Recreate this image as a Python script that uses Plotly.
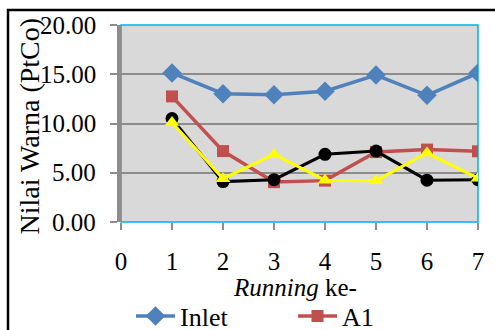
import plotly.graph_objects as go

runs = [1, 2, 3, 4, 5, 6, 7]
inlet = [15.13, 13.03, 12.93, 13.27, 14.92, 12.86, 15.13]
a1 = [12.75, 7.2, 4.05, 4.2, 7.1, 7.35, 7.18]
a2 = [10.5, 4.1, 4.3, 6.87, 7.2, 4.25, 4.3]
a3 = [10.1, 4.4, 6.85, 4.25, 4.2, 7.0, 4.45]

x_ticks = [0, 1, 2, 3, 4, 5, 6, 7]
y_ticks = [0, 5, 10, 15, 20]
y_labels = ["0.00", "5.00", "10.00", "15.00", "20.00"]
x_title = "<i>Running</i> ke-"
y_title = "Nilai Warna (PtCo)"

FONT = "Liberation Serif, Times New Roman, serif"
fig = go.Figure()
fig.add_trace(go.Scatter(x=runs, y=inlet, name="Inlet", mode="lines+markers",
                         line=dict(color="#4F81BD", width=3.5),
                         marker=dict(symbol="diamond", size=15, color="#4F81BD")))
fig.add_trace(go.Scatter(x=runs, y=a1, name="A1", mode="lines+markers",
                         line=dict(color="#C0504D", width=3.5),
                         marker=dict(symbol="square", size=12, color="#C0504D")))
fig.add_trace(go.Scatter(x=runs, y=a2, name="A2", mode="lines+markers", showlegend=False,
                         line=dict(color="#000000", width=3),
                         marker=dict(symbol="circle", size=13, color="#000000")))
fig.add_trace(go.Scatter(x=runs, y=a3, name="A3", mode="lines+markers", showlegend=False,
                         line=dict(color="#FFFF00", width=3),
                         marker=dict(symbol="triangle-up", size=13, color="#FFFF00")))

annotations = [
    dict(text=x_title, xref="paper", yref="paper", x=0.487, y=-0.33,
         xanchor="center", yanchor="middle", showarrow=False,
         font=dict(size=25, family=FONT)),
    dict(text=y_title, xref="paper", yref="paper", x=-0.255, y=0.49,
         xanchor="center", yanchor="middle", showarrow=False, textangle=-90,
         font=dict(size=28, family=FONT)),
]
for v, lab in zip(y_ticks, y_labels):
    annotations.append(dict(text=lab, xref="paper", yref="y", x=-0.064, y=v,
                            xanchor="right", yanchor="middle", showarrow=False,
                            font=dict(size=25, family=FONT)))

fig.update_layout(
    width=495, height=330,
    margin=dict(l=121, r=17, t=25, b=108, autoexpand=False),
    paper_bgcolor="white", plot_bgcolor="#D9D9D9",
    font=dict(family=FONT, size=25, color="black"),
    showlegend=True,
    legend=dict(orientation="h", x=0.028, xanchor="left", xref="paper",
                y=1 - 316 / 330, yanchor="middle", yref="container",
                font=dict(size=26, family=FONT), entrywidth=108, entrywidthmode="pixels",
                bgcolor="rgba(0,0,0,0)", borderwidth=0, itemwidth=39),
    shapes=[
        dict(type="rect", xref="paper", yref="paper", x0=0, x1=1, y0=0, y1=1,
             line=dict(color="#00B0F0", width=1.5), layer="below"),
        dict(type="rect", xref="paper", yref="paper", x0=-0.3165, x1=2, y0=-2, y1=1.0761,
             line=dict(color="black", width=2.5), layer="below"),
    ],
    annotations=annotations,
)
fig.update_xaxes(range=[0, 7], tickvals=x_ticks, ticktext=[str(v) for v in x_ticks],
                 automargin=False,
                 showgrid=False, zeroline=False, showline=False,
                 ticks="outside", ticklen=7, tickwidth=2, tickcolor="#8C8C8C",
                 ticklabelstandoff=10, tickfont=dict(size=25, family=FONT))
fig.update_yaxes(range=[0, 20], tickvals=y_ticks, showticklabels=False,
                 automargin=False,
                 showgrid=True, gridcolor="#8C8C8C", gridwidth=1.5, zeroline=False,
                 showline=True, linecolor="#8C8C8C", linewidth=3.5,
                 ticks="outside", ticklen=7, tickwidth=2, tickcolor="#8C8C8C")

fig.write_html("out.html")
